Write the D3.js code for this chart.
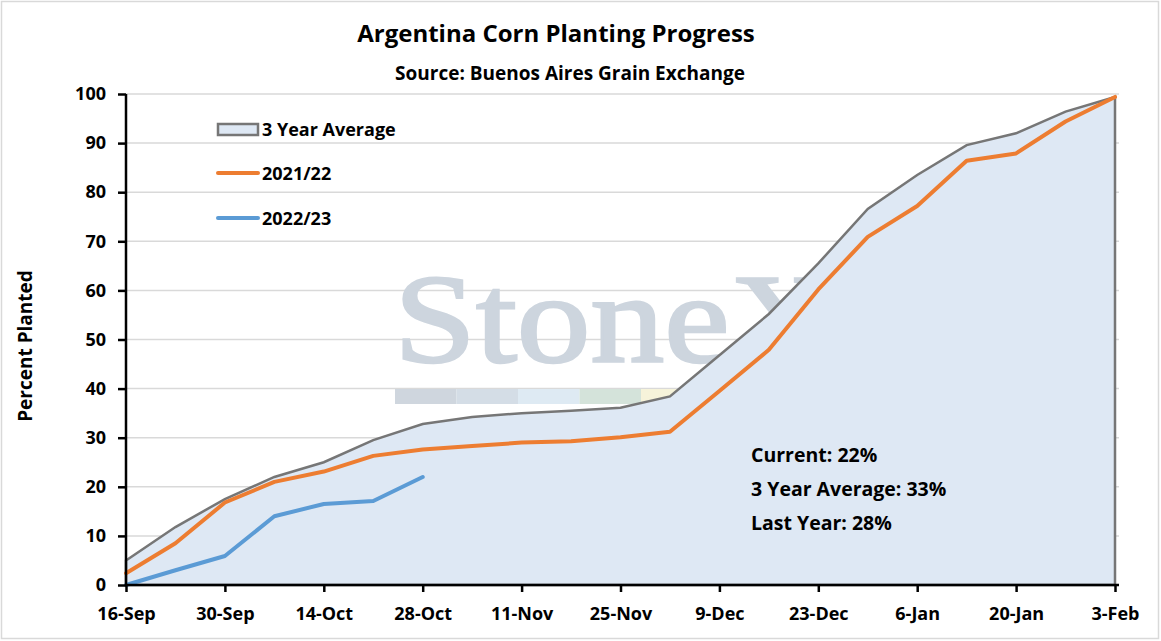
<!DOCTYPE html>
<html>
<head>
<meta charset="utf-8">
<script src="https://cdn.jsdelivr.net/npm/d3@7"></script>
<style>
  body { margin: 0; background: #fff; }
  text { font-family: "Open Sans", Lato, sans-serif; font-weight: bold; fill: #000; }
</style>
</head>
<body>
<svg width="1161" height="641"></svg>
<script>
// weekly observations starting 16-Sep
const startDate = new Date(2022, 8, 16);
const avg3yr = [5, 11.8, 17.5, 22, 25, 29.5, 32.8, 34.2, 35, 35.5, 36.1, 38.4, 46.8, 55.2, 65.5, 76.6, 83.5, 89.6, 92, 96.4, 99.4];
const season2122 = [2.4, 8.5, 16.8, 21, 23.1, 26.3, 27.6, 28.3, 29, 29.3, 30.1, 31.2, 39.5, 47.9, 60.2, 70.9, 77.2, 86.4, 87.9, 94.4, 99.4];
const season2223 = [0, 3, 5.9, 14, 16.5, 17.1, 22];
const yTicks = [0, 10, 20, 30, 40, 50, 60, 70, 80, 90, 100];
const xTickLabels = ["16-Sep", "30-Sep", "14-Oct", "28-Oct", "11-Nov", "25-Nov", "9-Dec", "23-Dec", "6-Jan", "20-Jan", "3-Feb"];
const legendLabels = ["3 Year Average", "2021/22", "2022/23"];
const notes = ["Current: 22%", "3 Year Average: 33%", "Last Year: 28%"];

const margin = { top: 94, right: 46, bottom: 56, left: 126 };
const width = 1161 - margin.left - margin.right;
const height = 641 - margin.top - margin.bottom;

const root = d3.select("svg");

// outer chart border
root.append("rect")
    .attr("x", 1.5).attr("y", 1.5)
    .attr("width", 1157).attr("height", 637)
    .attr("fill", "#fff")
    .attr("stroke", "#d9d9d9")
    .attr("stroke-width", 1.5);

root.append("text")
    .attr("x", 556).attr("y", 42)
    .attr("text-anchor", "middle")
    .style("font-size", "24px")
    .text("Argentina Corn Planting Progress");

root.append("text")
    .attr("x", 570).attr("y", 80)
    .attr("text-anchor", "middle")
    .style("font-size", "19px")
    .text("Source: Buenos Aires Grain Exchange");

const svg = root.append("g")
    .attr("transform", `translate(${margin.left},${margin.top})`);

const dateAt = i => d3.timeDay.offset(startDate, 7 * i);

const x = d3.scaleTime()
    .domain([startDate, dateAt(20)])
    .range([0, width]);
const y = d3.scaleLinear().domain([0, 100]).range([height, 0]);

// gridlines
svg.append("g")
    .selectAll("line")
    .data(yTicks.slice(1))
    .join("line")
    .attr("x1", 0).attr("x2", width + 4)
    .attr("y1", d => y(d)).attr("y2", d => y(d))
    .attr("stroke", "#d9d9d9")
    .attr("stroke-width", 1.5);

// StoneX watermark (sits under the data)
const wm = svg.append("g").attr("transform", `translate(${-margin.left},${-margin.top})`);
wm.append("text")
    .attr("x", 394).attr("y", 362)
    .attr("textLength", 442)
    .attr("lengthAdjust", "spacingAndGlyphs")
    .style("font-family", "'Liberation Serif', 'DejaVu Serif', serif")
    .style("font-weight", "normal")
    .style("font-size", "126px")
    .style("fill", "#cdd5de")
    .style("stroke", "#cdd5de")
    .style("stroke-width", 2.5)
    .text("StoneX");
const stripColors = ["#cfd6de", "#d4dde6", "#deeaf3", "#d4e3da", "#f6f3da"];
wm.selectAll("rect")
    .data(stripColors)
    .join("rect")
    .attr("x", (d, i) => 395 + i * 61.5)
    .attr("y", 389)
    .attr("width", 61.5)
    .attr("height", 15)
    .attr("fill", d => d);

// 3 year average area
const avgPts = avg3yr.map((v, i) => ({ date: dateAt(i), v }));
svg.append("path")
    .datum(avgPts)
    .attr("fill", "#dee8f4")
    .attr("stroke", "#767676")
    .attr("stroke-width", 2.5)
    .attr("d", d3.area()
        .x(d => x(d.date))
        .y0(y(0))
        .y1(d => y(d.v)));

const line = d3.line()
    .x(d => x(d.date))
    .y(d => y(d.v));

svg.append("path")
    .datum(season2122.map((v, i) => ({ date: dateAt(i), v })))
    .attr("fill", "none")
    .attr("stroke", "#ed7d31")
    .attr("stroke-width", 4)
    .attr("stroke-linejoin", "round")
    .attr("stroke-linecap", "round")
    .attr("d", line);

svg.append("path")
    .datum(season2223.map((v, i) => ({ date: dateAt(i), v })))
    .attr("fill", "none")
    .attr("stroke", "#5b9bd5")
    .attr("stroke-width", 4)
    .attr("stroke-linejoin", "round")
    .attr("stroke-linecap", "round")
    .attr("d", line);

// Axes
const yAxis = svg.append("g")
    .call(d3.axisLeft(y).tickValues(yTicks).tickSize(8).tickPadding(12));
const xAxis = svg.append("g")
    .attr("transform", `translate(0,${height})`)
    .call(d3.axisBottom(x)
        .tickValues(xTickLabels.map((_, i) => dateAt(2 * i)))
        .tickFormat((d, i) => xTickLabels[i])
        .tickSize(7).tickPadding(15));

[yAxis, xAxis].forEach(a => {
    a.select(".domain").attr("stroke", "#000").attr("stroke-width", 2.5);
    a.selectAll(".tick line").attr("stroke", "#000").attr("stroke-width", 2.5);
    a.selectAll(".tick text").style("font-size", "18px").style("font-family", "'Open Sans', sans-serif").attr("fill", "#000");
});
xAxis.select(".domain").attr("d", `M0,0H${width + 4}`);
yAxis.select(".domain").attr("d", `M0,${height}V0`);

root.append("text")
    .attr("transform", "translate(32,346) rotate(-90)")
    .attr("text-anchor", "middle")
    .style("font-size", "19px")
    .text("Percent Planted");

// legend
const legend = root.append("g");
const legendY = [129, 173, 218];
legend.append("rect")
    .attr("x", 218).attr("y", 124)
    .attr("width", 40).attr("height", 11)
    .attr("fill", "#dee8f4")
    .attr("stroke", "#767676")
    .attr("stroke-width", 2.5);
[["#ed7d31", 1], ["#5b9bd5", 2]].forEach(([c, i]) => {
    legend.append("line")
        .attr("x1", 218).attr("x2", 258)
        .attr("y1", legendY[i]).attr("y2", legendY[i])
        .attr("stroke", c)
        .attr("stroke-width", 4)
        .attr("stroke-linecap", "round");
});
legend.selectAll("text")
    .data(legendLabels)
    .join("text")
    .attr("x", 262)
    .attr("y", (d, i) => legendY[i] + 7)
    .style("font-size", "18px")
    .text(d => d);

// summary notes
root.append("g")
    .selectAll("text")
    .data(notes)
    .join("text")
    .attr("x", 751)
    .attr("y", (d, i) => 462 + i * 34)
    .style("font-size", "19.5px")
    .text(d => d);
</script>
</body>
</html>
